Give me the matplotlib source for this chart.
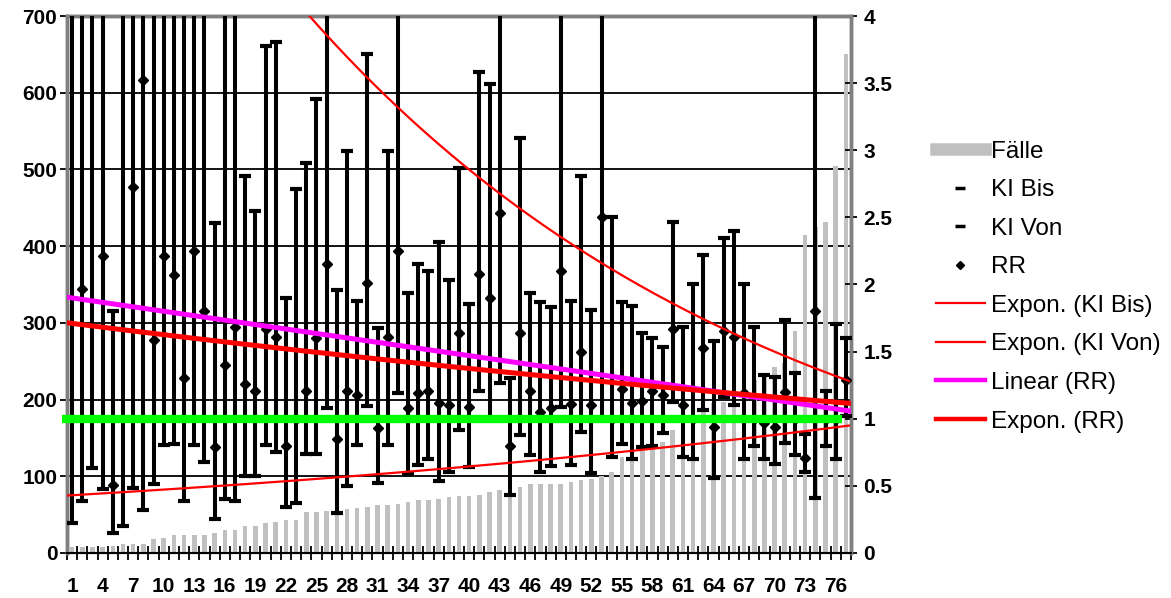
import numpy as np
import matplotlib
matplotlib.use('Agg')
import matplotlib.pyplot as plt
import matplotlib.font_manager as fm
from matplotlib.lines import Line2D

# Kategorien 1..77
categories = list(range(1, 78))

# Fälle (linke Achse)
faelle = [8, 8, 8, 8, 9, 12, 12, 12, 18, 20,
          23, 23, 23, 23, 26, 30, 30, 35, 35, 39,
          41, 43, 43, 53, 53, 55, 56, 57, 58, 60,
          63, 63, 64, 67, 69, 69, 71, 73, 74, 74,
          76, 79, 82, 83, 86, 90, 90, 90, 90, 92,
          95, 97, 100, 105, 125, 130, 138, 142, 145, 160,
          168, 178, 185, 195, 197, 200, 210, 225, 235, 242,
          248, 290, 415, 425, 432, 504, 651]

# Relatives Risiko (rechte Achse)
rr = [4.4, 1.97, 4.4, 2.21, 0.505, 4.4, 2.73, 3.52, 1.59, 2.21,
      2.07, 1.30, 2.25, 1.80, 0.79, 1.40, 1.68, 1.26, 1.21, 1.67,
      1.61, 0.80, 1.00, 1.21, 1.60, 2.15, 0.85, 1.21, 1.18, 2.01,
      0.93, 1.61, 2.25, 1.08, 1.19, 1.21, 1.12, 1.10, 1.64, 1.09,
      2.08, 1.90, 2.53, 0.80, 1.64, 1.21, 1.05, 1.08, 2.10, 1.11,
      1.50, 1.10, 2.50, 1.00, 1.22, 1.12, 1.13, 1.21, 1.18, 1.67,
      1.10, 1.00, 1.53, 0.94, 1.65, 1.61, 1.19, 1.00, 0.97, 0.94,
      1.20, 1.00, 0.71, 1.80, 1.00, 1.00, 1.29]

# Konfidenzintervall von / bis
ki_von = [0.22, 0.385, 0.63, 0.477, 0.15, 0.20, 0.486, 0.317, 0.514, 0.806,
          0.814, 0.385, 0.806, 0.674, 0.25, 0.40, 0.39, 0.575, 0.575, 0.806,
          0.75, 0.345, 0.373, 0.735, 0.735, 1.08, 0.295, 0.497, 0.806, 1.095,
          0.52, 0.806, 1.193, 0.59, 0.654, 0.70, 0.533, 0.60, 0.918, 0.637,
          1.207, 1.0, 1.263, 0.435, 0.879, 0.73, 0.60, 0.646, 1.086, 0.654,
          0.898, 0.598, 1.0, 0.717, 0.81, 0.70, 0.79, 0.80, 0.896, 1.125,
          0.717, 0.70, 1.067, 0.56, 1.16, 1.10, 0.70, 0.80, 0.70, 0.66,
          0.82, 0.73, 0.605, 0.41, 0.80, 0.70, 1.02]

ki_bis = [8.0, 9.0, 7.0, 12.0, 1.80, 6.0, 15.0, 30.0, 5.0, 6.0,
          5.5, 4.5, 6.5, 5.0, 2.456, 5.0, 7.0, 2.81, 2.546, 3.775,
          3.81, 1.90, 2.71, 2.905, 3.38, 4.5, 1.956, 2.995, 1.88, 3.72,
          1.676, 2.995, 4.6, 1.937, 2.153, 2.097, 2.316, 2.03, 2.87, 1.853,
          3.585, 3.495, 5.2, 1.30, 3.09, 1.937, 1.867, 1.83, 4.1, 1.88,
          2.807, 1.81, 5.8, 2.50, 1.87, 1.84, 1.636, 1.60, 1.535, 2.462,
          1.684, 2.007, 2.218, 1.577, 2.344, 2.40, 2.0, 1.684, 1.328, 1.31,
          1.732, 1.34, 0.89, 4.3, 1.207, 1.704, 1.60]

# Trendlinien: Wert bei Kategorie 1 und bei Kategorie 77
trend_ki_bis = (6.6, 1.29)
trend_ki_von = (0.43, 0.946)
trend_rr_exp = (1.71, 1.117)
trend_rr_lin = (1.90, 1.062)
ref_level = 1.0

tick_labels = [str(c) for c in categories[::3]]


def pick_font(names):
    available = {f.name for f in fm.fontManager.ttflist}
    for name in names:
        if name in available:
            return name
    return 'DejaVu Sans'


def expon(ends, x):
    first, last = ends
    return first * (last / first) ** ((x - 1) / 76.0)


def linear(ends, x):
    first, last = ends
    return first + (last - first) * (x - 1) / 76.0


tick_font = pick_font(['Liberation Sans Narrow', 'Arial Narrow', 'Liberation Sans'])
text_font = pick_font(['Liberation Sans', 'Arial'])

fig = plt.figure(figsize=(11.71, 5.98), dpi=100)
fig.patch.set_facecolor('white')
ax = fig.add_axes([0.0572, 0.0753, 0.6695, 0.8979])
ax2 = ax.twinx()

x = np.array(categories, dtype=float)
n = len(categories)

# Balken: Fälle
ax.bar(x, faelle, width=0.45, color='#C0C0C0', zorder=2)
ax.set_ylim(0, 700)
ax.set_xlim(0.5, n + 0.5)
ax.set_yticks(np.arange(0, 701, 100))
ax.set_axisbelow(True)
ax.yaxis.grid(True, color='black', linewidth=1.3)

# Konfidenzintervalle und RR
von = np.array(ki_von)
bis = np.array(ki_bis)
ax2.vlines(x, von, bis, color='black', linewidth=2.9, zorder=3)
ax2.plot(x, bis, linestyle='none', marker='_', markersize=8, markeredgewidth=3,
         color='black', zorder=4)
ax2.plot(x, von, linestyle='none', marker='_', markersize=8, markeredgewidth=3,
         color='black', zorder=4)
ax2.plot(x, rr, linestyle='none', marker='D', markersize=5, color='black', zorder=4)

# Trendlinien
xs = np.linspace(0.5, n + 0.3, 300)
ax2.plot(xs, expon(trend_ki_bis, xs), color='#FF0000', linewidth=1.6, zorder=5)
ax2.plot(xs, expon(trend_ki_von, xs), color='#FF0000', linewidth=1.6, zorder=5)
ax2.plot(xs, linear(trend_rr_lin, xs), color='#FF00FF', linewidth=3.6, zorder=5)
ax2.plot(xs, expon(trend_rr_exp, xs), color='#FF0000', linewidth=3.6, zorder=6)
ax2.hlines(ref_level, 0, n - 0.4, color='#00FF00', linewidth=6, zorder=7,
           clip_on=False)

ax2.set_ylim(0, 4)
ax2.set_yticks(np.arange(0, 4.01, 0.5))
ax2.set_yticklabels(['0', '0.5', '1', '1.5', '2', '2.5', '3', '3.5', '4'])

# x-Achse: Striche zwischen den Kategorien, Beschriftung jede dritte
ax.set_xticks(np.arange(0.5, n + 1, 1.0))
ax.set_xticklabels([])
ax.set_xticks(x[::3], minor=True)
ax.set_xticklabels(tick_labels, minor=True)
ax.tick_params(axis='x', which='major', direction='inout', length=10, width=1.3)
ax.tick_params(axis='x', which='minor', length=0, pad=17)
ax.tick_params(axis='y', direction='out', length=5, width=1.3, pad=2)
ax2.tick_params(axis='y', direction='inout', length=8, width=1.3, pad=5)

for lab in ax.get_xticklabels(minor=True) + ax.get_yticklabels() + ax2.get_yticklabels():
    lab.set_fontfamily(tick_font)
    lab.set_fontweight('bold')
    lab.set_fontsize(15)

for a in (ax, ax2):
    for side in ('left', 'top', 'right'):
        a.spines[side].set_color('#808080')
        a.spines[side].set_linewidth(2.5)
    a.spines['bottom'].set_color('black')
    a.spines['bottom'].set_linewidth(1.5)

# Legende
handles = [
    Line2D([], [], color='#C0C0C0', linewidth=9),
    Line2D([], [], linestyle='none', marker='_', markersize=7, markeredgewidth=2.5, color='black'),
    Line2D([], [], linestyle='none', marker='_', markersize=7, markeredgewidth=2.5, color='black'),
    Line2D([], [], linestyle='none', marker='D', markersize=4.5, color='black'),
    Line2D([], [], color='#FF0000', linewidth=1.6),
    Line2D([], [], color='#FF0000', linewidth=1.6),
    Line2D([], [], color='#FF00FF', linewidth=3.2),
    Line2D([], [], color='#FF0000', linewidth=3.2),
]
labels = ['Fälle', 'KI Bis', 'KI Von', 'RR', 'Expon. (KI Bis)',
          'Expon. (KI Von)', 'Linear (RR)', 'Expon. (RR)']
fig.legend(handles, labels, loc='upper left', bbox_to_anchor=(0.789, 0.785),
           frameon=False, prop={'family': text_font, 'size': 17.5},
           handlelength=2.0, handletextpad=0.25, labelspacing=0.68, borderpad=0)

fig.savefig('out.png', dpi=100, facecolor='white')
